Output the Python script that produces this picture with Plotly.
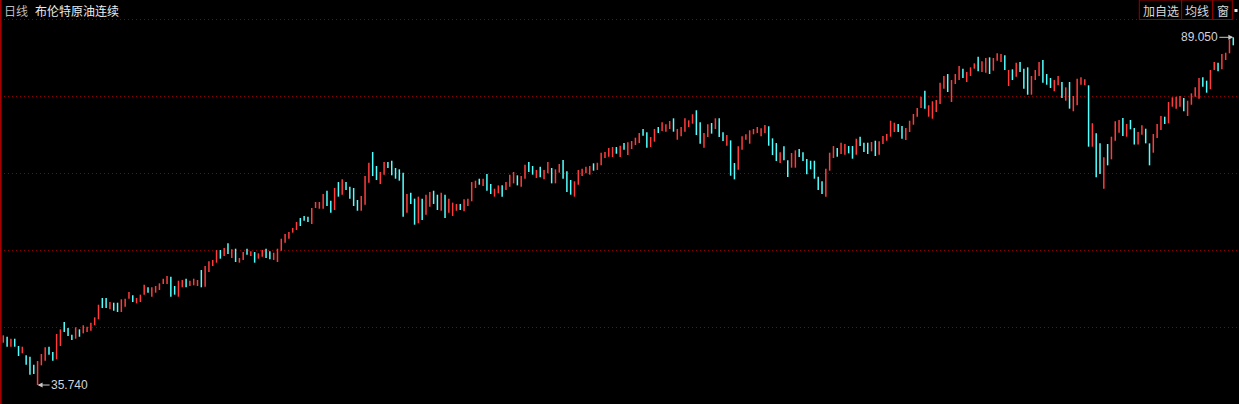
import plotly.graph_objects as go

# ---------------- data ----------------
highs = [
    43.36, 43.14, 42.84, 42.84, 41.72, 41.61, 40.30, 40.08, 38.85, 39.42,
    40.50, 41.52, 41.61, 40.80, 43.56, 44.28, 45.40, 44.48, 43.45, 44.59,
    44.28, 44.90, 44.68, 45.30, 46.12, 48.05, 49.08, 49.08, 48.46, 48.36,
    48.36, 48.88, 48.97, 50.00, 49.50, 49.08, 49.59, 51.12, 50.72, 50.72,
    50.92, 51.33, 52.04, 52.45, 52.35, 50.92, 51.73, 51.84, 52.04, 51.73,
    52.04, 51.84, 53.37, 53.98, 54.71, 54.91, 56.44, 56.44, 56.75, 57.46,
    56.55, 56.64, 55.22, 56.13, 56.64, 56.24, 56.13, 55.93, 56.44, 56.64,
    56.24, 56.03, 56.64, 58.17, 58.90, 59.20, 59.82, 60.73, 61.35, 61.66,
    61.55, 62.88, 63.80, 63.80, 65.03, 65.53, 64.00, 65.95, 66.86, 67.28,
    66.86, 66.15, 65.95, 64.11, 64.72, 67.78, 69.82, 71.46, 69.32, 68.40,
    69.93, 69.93, 70.13, 69.01, 68.81, 68.30, 65.03, 65.23, 64.31, 64.62,
    64.31, 64.92, 65.33, 65.53, 64.92, 65.23, 64.92, 64.31, 63.70, 63.50,
    63.50, 64.22, 64.31, 66.86, 67.07, 67.37, 67.37, 68.09, 66.56, 65.84,
    66.35, 66.35, 66.86, 67.99, 68.40, 67.89, 67.78, 69.52, 69.93, 69.32,
    68.71, 69.22, 68.71, 69.93, 69.01, 68.81, 69.63, 70.24, 68.50, 67.17,
    66.97, 68.71, 68.91, 69.22, 69.32, 69.73, 69.82, 71.36, 71.46, 72.08,
    72.23, 72.23, 72.43, 72.84, 72.95, 73.15, 73.66, 74.38, 75.00, 74.49,
    73.76, 75.00, 75.30, 76.02, 75.71, 76.22, 76.63, 75.00, 75.30, 76.63,
    76.32, 77.25, 77.86, 76.02, 74.38, 75.71, 75.91, 76.63, 76.63, 74.49,
    74.07, 73.25, 69.78, 72.33, 73.87, 74.17, 74.79, 75.00, 75.30, 75.10,
    75.61, 75.41, 73.56, 72.84, 71.42, 72.33, 70.19, 71.31, 71.72, 71.92,
    71.42, 70.39, 70.13, 70.13, 67.68, 66.97, 68.91, 71.36, 72.38, 72.08,
    72.89, 72.69, 72.38, 72.38, 73.50, 73.81, 72.89, 72.89, 73.00, 73.20,
    73.10, 73.92, 74.22, 76.26, 75.96, 75.76, 75.45, 75.15, 76.26, 77.29,
    78.21, 79.95, 80.87, 78.63, 79.24, 79.44, 82.09, 83.12, 83.42, 82.50,
    83.42, 84.65, 84.24, 83.73, 84.45, 85.06, 86.08, 85.37, 85.88, 85.98,
    85.88, 86.60, 86.49, 86.29, 84.04, 84.14, 85.16, 85.26, 84.24, 84.45,
    83.12, 84.04, 85.26, 85.57, 83.42, 82.81, 82.50, 83.12, 82.20, 81.38,
    82.20, 80.05, 82.71, 82.91, 82.61, 81.69, 75.88, 74.33, 72.79, 70.65,
    72.69, 73.81, 76.17, 76.37, 76.68, 75.76, 76.37, 75.15, 74.53, 75.56,
    75.04, 72.79, 74.22, 75.76, 76.99, 76.88, 79.13, 79.85, 79.95, 80.05,
    79.74, 79.33, 80.46, 81.38, 82.81, 82.91, 82.40, 84.04, 85.26, 85.16,
    86.49, 86.69, 88.74, 89.05,
]

lows = [
    42.23, 41.61, 41.61, 41.61, 40.19, 40.60, 38.85, 37.32, 37.43, 35.74,
    38.76, 39.46, 40.39, 39.46, 39.68, 41.72, 43.86, 43.25, 42.64, 42.84,
    43.14, 43.66, 43.86, 44.06, 44.90, 45.81, 47.54, 47.54, 47.35, 47.13,
    46.93, 46.93, 47.74, 48.97, 48.46, 48.26, 48.46, 49.59, 49.90, 49.28,
    49.90, 50.31, 51.23, 51.23, 49.28, 49.59, 49.28, 50.72, 50.72, 50.92,
    51.03, 50.92, 50.72, 50.82, 53.06, 53.98, 54.50, 55.11, 55.52, 55.83,
    55.22, 54.60, 54.50, 54.91, 55.72, 55.52, 54.50, 55.11, 55.41, 55.22,
    55.02, 54.91, 54.60, 56.33, 57.56, 58.17, 59.10, 59.51, 60.12, 60.93,
    60.73, 60.43, 62.88, 62.77, 62.77, 63.19, 62.16, 62.57, 64.62, 64.92,
    65.64, 64.31, 63.19, 62.46, 62.46, 63.39, 66.76, 67.78, 67.17, 66.56,
    67.99, 69.01, 67.89, 67.37, 67.07, 61.55, 62.16, 63.50, 60.32, 60.53,
    61.04, 61.85, 63.08, 63.50, 62.57, 62.46, 61.35, 62.16, 61.66, 62.46,
    62.57, 62.37, 63.19, 63.91, 65.95, 66.45, 66.25, 65.53, 65.03, 64.62,
    65.13, 64.62, 65.64, 66.15, 66.66, 66.35, 66.15, 67.37, 68.40, 67.99,
    67.48, 67.58, 67.28, 68.20, 66.66, 66.66, 68.30, 67.37, 65.33, 64.92,
    64.62, 66.45, 67.78, 68.20, 67.99, 68.60, 68.71, 69.42, 70.54, 70.74,
    70.70, 71.20, 70.70, 71.82, 71.00, 71.92, 72.54, 72.84, 73.97, 72.13,
    72.23, 73.05, 74.38, 74.69, 74.58, 74.99, 74.58, 73.35, 73.87, 74.58,
    75.30, 75.81, 74.07, 72.74, 72.13, 73.76, 74.28, 74.99, 73.76, 73.15,
    72.43, 67.83, 67.27, 68.76, 71.82, 73.35, 72.74, 74.18, 74.38, 73.87,
    74.38, 72.43, 71.00, 70.08, 69.78, 70.19, 67.63, 69.06, 69.06, 70.70,
    70.08, 68.04, 68.81, 67.37, 65.64, 65.03, 64.62, 68.60, 70.54, 70.74,
    71.16, 71.05, 71.26, 70.44, 71.05, 72.38, 71.46, 71.16, 71.57, 70.85,
    71.05, 72.69, 73.20, 73.81, 74.53, 74.53, 73.50, 73.30, 74.53, 75.65,
    76.88, 78.21, 78.11, 76.88, 76.57, 77.60, 78.83, 81.17, 80.66, 79.13,
    81.89, 82.50, 82.81, 82.20, 83.12, 84.24, 83.84, 83.73, 83.62, 83.42,
    83.93, 85.46, 85.26, 84.04, 81.58, 82.50, 83.01, 83.73, 81.17, 80.25,
    80.25, 82.50, 83.12, 82.09, 81.78, 81.28, 80.77, 81.69, 79.74, 79.33,
    78.11, 77.71, 78.63, 81.78, 81.69, 72.28, 72.28, 67.58, 68.09, 65.84,
    69.42, 70.34, 73.20, 74.43, 73.92, 73.81, 74.94, 72.61, 72.61, 74.12,
    72.79, 69.42, 71.36, 73.61, 74.84, 75.76, 75.86, 78.41, 78.11, 78.41,
    77.71, 76.99, 78.71, 79.95, 79.64, 81.48, 80.56, 81.08, 84.04, 83.84,
    84.14, 85.57, 86.60, 87.82,
]

# R = up (red) day, C = down (cyan) day
direction = (
    "RCRCCRCCCR" "RRCCRRCCCR" "CRRRRRCCRC" "CRRRCRRRCR" "RRRRCCRRCR"
    "RRCRRRRCRC" "RCRRCRCRRC" "CRRRRRRRCC" "CRRRRCCRCR" "CCCCRRRCCR"
    "RCCCCCRCCR" "CRRCCRCRRR" "CRRRRCRCCR" "RCRRRCRRCC" "RCRRCRRCCC"
    "RRRRRCRRRR" "RCRCRRRRCC" "RRCRRRCRRR" "RRCCRRCRCC" "RCCRRRRRRR"
    "RCCCRCCRRC" "CCCCCCRRRC" "RRCCRCCCRC" "RRRRRCCRRR" "RRCRRRRRCR"
    "RRCRRRCRRC" "RRRCRCRCCC" "RRRCCCRRCR" "CRRRRCRCCR" "CRRRCRCCRR"
    "CCRRRCRRRR" "CRRRRCCRRC" "RRRC"
)

grid_levels = [91.81, 80.01, 68.20, 56.39, 44.59]
period_label = "日线"
instrument_label = "布伦特原油连续"
button_labels = ["加自选", "均线", "窗"]

# ---------------- styling ----------------
W, H = 1239, 404
RED = "#ff3c3c"
CYAN = "#54ffff"
GRID = "#8c0000"
BORDER = "#9a0000"
CJK = "Noto Sans CJK SC"
NUMF = "Liberation Sans, Arial"

idx = list(range(len(highs)))
opens = [lo if d == "R" else hi for hi, lo, d in zip(highs, lows, direction)]
closes = [hi if d == "R" else lo for hi, lo, d in zip(highs, lows, direction)]

fig = go.Figure(
    go.Ohlc(
        x=idx, open=opens, high=highs, low=lows, close=closes,
        increasing=dict(line=dict(color=RED, width=1.5)),
        decreasing=dict(line=dict(color=CYAN, width=1.5)),
        tickwidth=0, hoverinfo="skip", showlegend=False,
    )
)

def px_x(p):
    return p / W

def px_y(p):
    return 1 - p / H

imin = lows.index(min(lows))
imax = highs.index(max(highs))

annotations = [
    dict(x=imin, y=lows[imin], xref="x", yref="y", text=f"{lows[imin]:.3f}",
         showarrow=True, ax=32, ay=0, arrowcolor="#c8c8c8", arrowhead=2,
         arrowsize=1, arrowwidth=1, standoff=0,
         font=dict(family=NUMF, size=12, color="#cfd4dc")),
    dict(x=imax, y=highs[imax], xref="x", yref="y", text=f"{highs[imax]:.3f}",
         showarrow=True, ax=-34, ay=0, arrowcolor="#c8c8c8", arrowhead=2,
         arrowsize=1, arrowwidth=1, standoff=0,
         font=dict(family=NUMF, size=12, color="#cfd4dc")),
    dict(x=px_x(1.5), y=px_y(10), xref="paper", yref="paper", text=period_label,
         showarrow=False, xanchor="left", yanchor="middle",
         font=dict(family=CJK, size=12, color="#bcbcbc")),
    dict(x=px_x(33), y=px_y(10), xref="paper", yref="paper", text=instrument_label,
         showarrow=False, xanchor="left", yanchor="middle",
         font=dict(family=CJK, size=12, color="#ececec")),
]

shapes = [
    dict(type="line", xref="paper", yref="paper", x0=px_x(0.8), x1=px_x(0.8),
         y0=0, y1=1, line=dict(color="#b00000", width=1.5), layer="above"),
]

box_edges = [1139.3, 1181.7, 1212.7, 1232.3]
for i, lab in enumerate(button_labels):
    x0, x1 = box_edges[i], box_edges[i + 1]
    shapes.append(dict(type="rect", xref="paper", yref="paper",
                       x0=px_x(x0), x1=px_x(x1), y0=px_y(19.5), y1=px_y(0),
                       line=dict(color=BORDER, width=1), fillcolor="black",
                       layer="above"))
    annotations.append(dict(x=px_x((x0 + x1) / 2), y=px_y(10), xref="paper",
                            yref="paper", text=lab, showarrow=False,
                            xanchor="center", yanchor="middle",
                            font=dict(family=CJK, size=12, color="#d8d8d8")))
shapes.append(dict(type="rect", xref="paper", yref="paper",
                   x0=px_x(1234.5), x1=px_x(1237.5), y0=px_y(12), y1=px_y(9),
                   line=dict(width=0), fillcolor="#e6e6e6", layer="above"))

fig.update_layout(
    width=W, height=H,
    margin=dict(l=0, r=0, t=0, b=0, pad=0),
    paper_bgcolor="black", plot_bgcolor="black",
    showlegend=False,
    xaxis=dict(range=[-0.867, 324.5], visible=False,
               rangeslider=dict(visible=False), fixedrange=True),
    yaxis=dict(range=[32.83, 94.77], tickvals=grid_levels, showticklabels=False,
               showgrid=True, gridcolor=GRID, griddash="1px,3px", gridwidth=1,
               zeroline=False, showline=False, ticks="", fixedrange=True),
    annotations=annotations,
    shapes=shapes,
)

fig.write_html(
    "out.html",
    config=dict(displayModeBar=False, staticPlot=True),
    post_script="document.body.style.margin='0';document.body.style.background='black';",
)
